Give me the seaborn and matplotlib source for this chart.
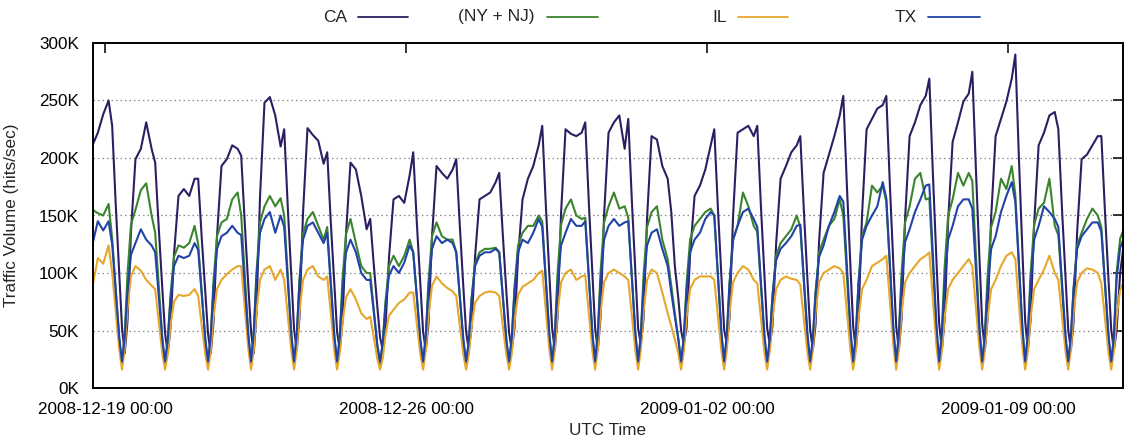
import numpy as np
import pandas as pd
import matplotlib
matplotlib.use("Agg")
import matplotlib.pyplot as plt
import matplotlib.dates as mdates
from matplotlib.lines import Line2D
from matplotlib.ticker import FuncFormatter
import seaborn as sns

# ---------------- data (values in K hits/sec) ----------------
STATES = ["CA", "(NY + NJ)", "IL", "TX"]
COLORS = {"CA": "#2e1d62", "(NY + NJ)": "#3b842e", "IL": "#e6a72a", "TX": "#2143a8"}
START_DAY = "2008-12-18"
PLATEAU_HOURS = [17, 20, 23, 26, 28]   # hours after 00:00 UTC of the day (26 = next 02:00)
FALL_HOURS = [30, 32, 33.5]            # next day 06:00, 08:00, 09:30
RISE_HOURS = [35, 36.5, 38.5]          # next day 11:00, 12:30, 14:30
END_HOUR = 40.5                        # last sample, Jan 11 16:30
X_TICKS = ["2008-12-19", "2008-12-26", "2009-01-02", "2009-01-09"]
X_LIMITS = ["2008-12-18 17:18", "2009-01-11 16:05"]
Y_TICKS = [0, 50, 100, 150, 200, 250, 300]

CA_PLATEAU = [
    [211, 222, 238, 250, 228], [199, 208, 231, 208, 196], [167, 173, 167, 182, 182],
    [193, 199, 211, 208, 202], [248, 253, 237, 210, 225], [226, 220, 215, 195, 205],
    [196, 190, 167, 138, 147], [164, 167, 161, 185, 205], [193, 187, 182, 190, 199],
    [164, 167, 170, 179, 187], [164, 182, 193, 211, 228], [225, 221, 219, 222, 231],
    [222, 231, 237, 208, 234], [219, 216, 193, 182, 153], [167, 176, 190, 211, 225],
    [222, 225, 228, 219, 228], [182, 193, 205, 211, 219], [187, 203, 219, 237, 254],
    [225, 234, 243, 246, 254], [219, 231, 246, 254, 269], [214, 231, 249, 256, 275],
    [219, 234, 249, 269, 290], [211, 222, 237, 240, 225], [199, 203, 211, 219, 219],
]
CA_FALL = [
    [159, 97, 52], [139, 86, 48], [130, 82, 47], [143, 88, 49], [157, 96, 51], [144, 89, 49],
    [107, 70, 44], [144, 89, 49], [141, 87, 49], [133, 83, 48], [159, 97, 52], [161, 98, 52],
    [163, 99, 52], [106, 77, 50], [157, 96, 51], [159, 97, 52], [154, 94, 51], [176, 105, 54],
    [176, 105, 54], [186, 110, 56], [190, 112, 56], [200, 117, 58], [157, 96, 51], [154, 94, 51],
]
CA_RISE = [
    [30, 57, 136], [30, 52, 116], [30, 56, 132], [30, 64, 166], [33, 61, 152], [33, 57, 134],
    [33, 52, 114], [33, 56, 132], [33, 52, 114], [33, 52, 114], [33, 61, 152], [33, 61, 150],
    [38, 60, 148], [38, 52, 116], [38, 61, 150], [38, 54, 125], [33, 55, 128], [33, 61, 152],
    [33, 60, 148], [33, 59, 145], [33, 60, 148], [33, 59, 143], [33, 57, 136], [33, 50, 100],
]
CA_END = 125

NY_PLATEAU = [
    [155, 152, 150, 160, 130], [155, 172, 178, 150, 135], [124, 122, 126, 141, 125],
    [144, 147, 164, 170, 150], [158, 167, 158, 165, 150], [147, 153, 141, 129, 140],
    [147, 126, 106, 100, 100], [115, 106, 115, 129, 118], [144, 132, 129, 129, 118],
    [118, 121, 121, 122, 118], [135, 141, 141, 150, 145], [156, 164, 150, 147, 148],
    [158, 170, 156, 158, 148], [153, 158, 129, 112, 89], [141, 147, 153, 156, 150],
    [141, 170, 158, 141, 136], [126, 132, 138, 150, 140], [129, 141, 147, 164, 150],
    [144, 176, 170, 176, 162], [158, 182, 187, 164, 165], [164, 187, 176, 187, 180],
    [153, 182, 173, 193, 168], [156, 161, 182, 141, 133], [135, 147, 156, 150, 140],
]
NY_FALL = [
    [86, 42, 20], [89, 43, 20], [83, 41, 20], [98, 46, 20], [98, 46, 20], [92, 44, 20],
    [68, 36, 20], [79, 40, 20], [79, 40, 20], [79, 40, 20], [95, 45, 20], [97, 46, 20],
    [97, 46, 20], [65, 42, 20], [98, 46, 20], [90, 43, 20], [92, 44, 20], [98, 46, 20],
    [105, 48, 20], [107, 49, 20], [116, 52, 20], [109, 50, 20], [88, 43, 20], [92, 44, 20],
]
NY_RISE = [
    [47, 98, 142], [41, 80, 114], [45, 92, 132], [48, 100, 144], [45, 94, 134], [45, 94, 134],
    [39, 75, 106], [45, 92, 132], [40, 77, 108], [43, 87, 124], [47, 99, 142], [48, 100, 144],
    [47, 97, 140], [44, 90, 129], [44, 90, 129], [41, 81, 115], [42, 83, 118], [45, 92, 132],
    [48, 100, 144], [49, 104, 150], [47, 97, 140], [47, 99, 142], [43, 87, 124], [45, 100, 130],
]
NY_END = 138

IL_PLATEAU = [
    [88, 113, 108, 124, 100], [106, 102, 94, 89, 86], [81, 80, 81, 86, 80],
    [94, 99, 103, 106, 106], [103, 106, 94, 103, 94], [103, 106, 97, 94, 97],
    [86, 77, 65, 60, 62], [68, 74, 77, 83, 83], [97, 91, 87, 84, 80],
    [80, 83, 84, 83, 80], [88, 91, 94, 100, 102], [100, 103, 94, 97, 98],
    [100, 103, 100, 97, 94], [103, 100, 83, 65, 54], [94, 97, 97, 97, 94],
    [100, 106, 103, 94, 91], [94, 97, 95, 94, 90], [100, 103, 106, 104, 100],
    [94, 106, 109, 112, 115], [100, 106, 112, 115, 118], [94, 100, 106, 112, 106],
    [94, 106, 115, 118, 112], [94, 103, 115, 100, 94], [100, 104, 103, 100, 91],
]
IL_FALL = [
    [66, 33, 16], [58, 30, 16], [54, 29, 16], [70, 34, 16], [63, 32, 16], [65, 32, 16],
    [44, 25, 16], [56, 29, 16], [54, 29, 16], [54, 29, 16], [68, 33, 16], [65, 32, 16],
    [63, 32, 16], [42, 30, 16], [63, 32, 16], [61, 31, 16], [60, 31, 16], [66, 33, 16],
    [75, 36, 16], [77, 36, 16], [70, 34, 16], [74, 35, 16], [63, 32, 16], [61, 31, 16],
]
IL_RISE = [
    [34, 68, 97], [29, 54, 75], [32, 61, 86], [33, 66, 94], [33, 66, 94], [30, 57, 79],
    [26, 46, 63], [32, 63, 89], [29, 53, 74], [30, 58, 81], [33, 65, 92], [33, 65, 92],
    [33, 66, 94], [32, 61, 86], [33, 65, 92], [32, 61, 86], [33, 65, 92], [32, 61, 86],
    [33, 65, 92], [32, 61, 86], [32, 61, 86], [32, 61, 86], [33, 65, 92], [32, 62, 85],
]
IL_END = 92

TX_PLATEAU = [
    [125, 145, 137, 145, 125], [126, 138, 129, 124, 118], [115, 113, 115, 126, 120],
    [132, 135, 141, 135, 133], [147, 153, 135, 150, 140], [141, 144, 135, 126, 135],
    [129, 118, 100, 94, 94], [106, 100, 109, 124, 118], [132, 126, 129, 126, 118],
    [115, 118, 118, 121, 118], [129, 126, 135, 147, 140], [135, 147, 141, 141, 145],
    [141, 147, 141, 144, 145], [135, 138, 121, 106, 83], [129, 135, 147, 153, 150],
    [141, 153, 156, 147, 140], [121, 126, 132, 141, 142], [124, 141, 153, 167, 162],
    [141, 150, 158, 179, 165], [138, 153, 164, 176, 177], [141, 158, 164, 164, 156],
    [132, 153, 167, 179, 162], [141, 158, 153, 147, 140], [132, 138, 144, 144, 136],
]
TX_FALL = [
    [84, 43, 23], [80, 42, 23], [81, 42, 23], [89, 45, 23], [93, 46, 23], [90, 45, 23],
    [66, 37, 23], [80, 42, 23], [80, 42, 23], [80, 42, 23], [93, 46, 23], [96, 47, 23],
    [96, 47, 23], [62, 42, 23], [99, 48, 23], [93, 46, 23], [94, 47, 23], [106, 51, 23],
    [108, 51, 23], [115, 54, 23], [103, 50, 23], [106, 51, 23], [93, 46, 23], [91, 46, 23],
]
TX_RISE = [
    [44, 83, 116], [41, 76, 106], [45, 86, 121], [48, 95, 135], [47, 91, 129], [44, 84, 118],
    [40, 71, 98], [45, 86, 121], [41, 76, 106], [44, 84, 118], [45, 88, 124], [47, 91, 129],
    [45, 88, 124], [44, 84, 118], [47, 91, 129], [43, 80, 111], [43, 82, 114], [47, 91, 129],
    [46, 90, 127], [47, 91, 129], [45, 86, 121], [47, 91, 129], [45, 86, 121], [44, 95, 122],
]
TX_END = 130

SERIES = {
    "CA": (CA_PLATEAU, CA_FALL, CA_RISE, CA_END),
    "(NY + NJ)": (NY_PLATEAU, NY_FALL, NY_RISE, NY_END),
    "IL": (IL_PLATEAU, IL_FALL, IL_RISE, IL_END),
    "TX": (TX_PLATEAU, TX_FALL, TX_RISE, TX_END),
}


def build(name, plateau, fall, rise, end):
    base0 = pd.Timestamp(START_DAY)
    rows = []
    for p in range(len(plateau)):
        base = base0 + pd.Timedelta(days=p)
        for hours, vals in ((PLATEAU_HOURS, plateau[p]), (FALL_HOURS, fall[p]), (RISE_HOURS, rise[p])):
            for h, v in zip(hours, vals):
                rows.append((base + pd.Timedelta(hours=h), v * 1000.0, name))
    rows.append((base + pd.Timedelta(hours=END_HOUR), end * 1000.0, name))
    return rows


records = []
for name in STATES:
    records += build(name, *SERIES[name])
df = pd.DataFrame(records, columns=["time", "value", "state"])

# ---------------- plot ----------------
sns.set_style("white")
plt.rcParams["font.family"] = ["Liberation Sans", "DejaVu Sans"]

W, H = 1125, 440
fig = plt.figure(figsize=(W / 100, H / 100), dpi=100)
ax = fig.add_axes([93 / W, 1 - 388 / H, (1123 - 93) / W, (388 - 43) / H])

for s in [50, 100, 150, 200, 250]:
    ax.axhline(s * 1000, color="#8a8a8a", linestyle=(0, (1.2, 2.4)), linewidth=0.9, zorder=0)

sns.lineplot(data=df, x="time", y="value", hue="state", hue_order=STATES,
             palette=COLORS, estimator=None, sort=False, linewidth=1.5,
             legend=False, ax=ax)

ax.set_xlim(pd.Timestamp(X_LIMITS[0]), pd.Timestamp(X_LIMITS[1]))
ax.set_ylim(0, 300000)
ax.set_yticks([v * 1000 for v in Y_TICKS])
ax.yaxis.set_major_formatter(FuncFormatter(lambda v, _: f"{int(round(v / 1000))}K"))
ax.set_xticks(pd.to_datetime(X_TICKS))
ax.xaxis.set_major_formatter(mdates.DateFormatter("%Y-%m-%d %H:%M"))

ax.tick_params(axis="both", direction="in", length=7, width=1.1, colors="black",
               labelsize=12.3, top=True, right=True)
ax.tick_params(axis="x", pad=10)
ax.tick_params(axis="y", pad=10)
for sp in ax.spines.values():
    sp.set_visible(True)
    sp.set_color("black")
    sp.set_linewidth(1.4)

ax.set_xlabel("UTC Time", fontsize=12.3)
ax.set_ylabel("Traffic Volume (hits/sec)", fontsize=12.3)
ax.yaxis.set_label_coords(-(93 - 19) / (1123 - 93), 0.5)
ax.xaxis.set_label_coords(0.5, -(423 - 388) / (388 - 43))

# gnuplot-style legend on top: label, then line sample
legend_items = [("CA", 347, 358, 408), ("(NY + NJ)", 535, 547, 598),
                ("IL", 727, 738, 788), ("TX", 917, 928, 980)]
ly = 1 - 17 / H
for name, tx, x0, x1 in legend_items:
    fig.text(tx / W, ly, name, ha="right", va="center", fontsize=12.5)
    fig.add_artist(Line2D([x0 / W, x1 / W], [ly, ly], transform=fig.transFigure,
                          color=COLORS[name], linewidth=1.3))

fig.savefig("out.png", dpi=100)
